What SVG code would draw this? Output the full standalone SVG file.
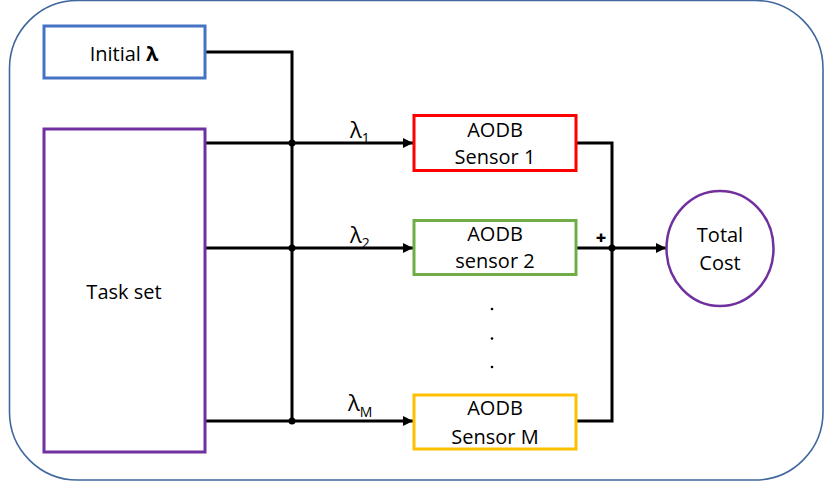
<svg xmlns="http://www.w3.org/2000/svg" width="824" height="483" viewBox="0 0 824 483">
<style>
text{font-family:"Open Sans","Noto Sans","Liberation Sans",sans-serif;font-size:20px;fill:#000;text-anchor:middle}
.sub{font-size:14px;text-anchor:start}
.lam{text-anchor:start;font-size:22px}
.box{fill:#fff;stroke-width:3}
.wire{fill:none;stroke:#000;stroke-width:3}
</style>
<defs>
<marker id="arr" viewBox="0 0 10 10" refX="10" refY="5" markerWidth="10" markerHeight="10" markerUnits="userSpaceOnUse" orient="auto">
<path d="M0,0 L10,5 L0,10 z" fill="#000"/>
</marker>
</defs>
<rect id="frame" x="9.5" y="0.5" width="813.5" height="479.5" rx="68" ry="68" fill="none" stroke="#41679f" stroke-width="1.6"/>
<g id="connectors">
<polyline class="wire" points="205,52 292,52 292,421"/>
<line class="wire" x1="205" y1="143" x2="413" y2="143" marker-end="url(#arr)"/>
<line class="wire" x1="205" y1="248" x2="413" y2="248" marker-end="url(#arr)"/>
<line class="wire" x1="205" y1="421" x2="413" y2="421" marker-end="url(#arr)"/>
<polyline class="wire" points="576,143 612,143 612,421 576,421"/>
<line class="wire" x1="576" y1="248" x2="666" y2="248" marker-end="url(#arr)"/>
<circle cx="292" cy="143" r="3.5"/>
<circle cx="292" cy="248" r="3.5"/>
<circle cx="292" cy="421" r="3.5"/>
<circle cx="612" cy="248" r="3.5"/>
<text x="601" y="244" style="font-weight:900;font-size:18px">+</text>
<text class="lam" x="350" y="138">λ<tspan class="sub" dy="5">1</tspan></text>
<text class="lam" x="350" y="243">λ<tspan class="sub" dy="5">2</tspan></text>
<text class="lam" x="348" y="411">λ<tspan class="sub" dy="6">M</tspan></text>
</g>
<g id="initial">
<rect class="box" x="44" y="26" width="161" height="52" stroke="#4472c4"/>
<text x="124" y="61">Initial <tspan style="font-weight:bold">λ</tspan></text>
</g>
<g id="taskset">
<rect class="box" x="44" y="129" width="161" height="323" stroke="#7030a0"/>
<text x="124" y="299">Task set</text>
</g>
<g id="sensor1">
<rect class="box" x="414" y="115.5" width="162" height="55" stroke="#ff0000"/>
<text x="495" y="137">AODB</text>
<text x="495" y="164">Sensor 1</text>
</g>
<g id="sensor2">
<rect class="box" x="414" y="220.5" width="162" height="54" stroke="#70ad47"/>
<text x="495" y="241">AODB</text>
<text x="495" y="268">sensor 2</text>
</g>
<g id="dots">
<circle cx="492" cy="309" r="1.3"/>
<circle cx="492" cy="338.5" r="1.3"/>
<circle cx="492" cy="367" r="1.3"/>
</g>
<g id="sensorM">
<rect class="box" x="414" y="395" width="162" height="54" stroke="#ffc000"/>
<text x="495" y="415">AODB</text>
<text x="495" y="444">Sensor M</text>
</g>
<g id="total">
<ellipse cx="720" cy="248.5" rx="53.5" ry="57.5" fill="#fff" stroke="#7030a0" stroke-width="2.5"/>
<text x="720" y="242">Total</text>
<text x="720" y="270">Cost</text>
</g>
</svg>
